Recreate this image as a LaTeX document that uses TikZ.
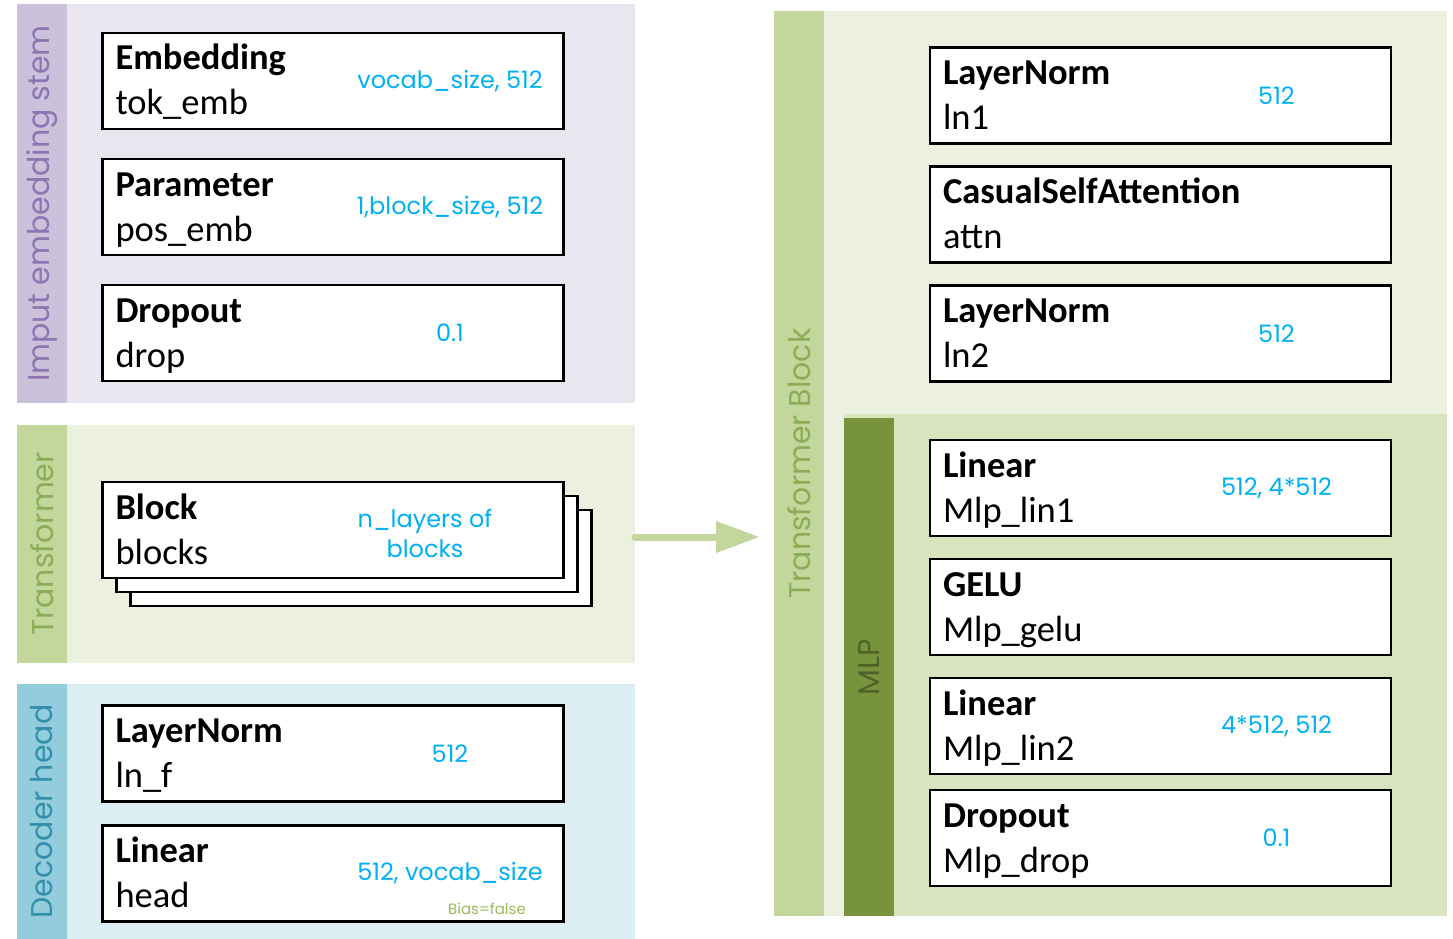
\documentclass[tikz,border=0pt]{standalone}
\usepackage{fontspec}
\setmainfont{Carlito}
\newfontfamily\gothic{Poppins}
\usetikzlibrary{arrows.meta, positioning}

\definecolor{stembg}{HTML}{EAE6EF}
\definecolor{stembar}{HTML}{CCC1DA}
\definecolor{stemtxt}{HTML}{8C75B2}
\definecolor{tfbg}{HTML}{EBF1DE}
\definecolor{tfbar}{HTML}{C3D69B}
\definecolor{tftxt}{HTML}{8AAE58}
\definecolor{headbg}{HTML}{DBEEF4}
\definecolor{headbar}{HTML}{93CDDD}
\definecolor{headtxt}{HTML}{3390AD}
\definecolor{mlpbg}{HTML}{D7E4BD}
\definecolor{mlpbar}{HTML}{77933C}
\definecolor{mlptxt}{HTML}{4F6228}
\definecolor{dimblue}{HTML}{00B0F0}
\definecolor{biasgreen}{HTML}{9BBB59}

\tikzset{
    panel/.style={rectangle, inner sep=0pt, outer sep=0pt},
    sidebar/.style={rectangle, inner sep=0pt, outer sep=0pt, minimum width=50pt, anchor=north west},
    sidetitle/.style={rotate=90, inner sep=0pt, font=\gothic\fontsize{30}{36}\selectfont},
    layer/.style={rectangle, draw, line width=2.5pt, fill=white, outer sep=0pt,
        inner xsep=13pt, inner ysep=0pt, text width=435pt, text height=37pt, text depth=59pt,
        align=left, font=\fontsize{36.5}{45}\selectfont},
    dims/.style={text=dimblue, align=center, inner sep=0pt, font=\gothic\fontsize{24}{30}\selectfont},
    bias/.style={text=biasgreen, inner sep=0pt, font=\gothic\fontsize{15}{18}\selectfont},
    flow/.style={line width=7pt, line cap=round, draw=tfbar, -{Triangle[length=44pt, width=30pt]}}
}

\begin{document}
\begin{tikzpicture}[x=1pt, y=-1pt]
    \useasboundingbox (0,0) rectangle (1453,939);

    % left column: the three stages
    \node (stempanel) [panel, fill=stembg, minimum width=618pt, minimum height=399pt] at (326,203.5) {};
    \node (tfpanel) [panel, fill=tfbg, minimum width=618pt, minimum height=238pt, below=22pt of stempanel] {};
    \node (headpanel) [panel, fill=headbg, minimum width=618pt, minimum height=255pt, below=21pt of tfpanel] {};
    \node (stembar) [sidebar, fill=stembar, minimum height=399pt] at (stempanel.north west) {};
    \node (tfbar) [sidebar, fill=tfbar, minimum height=238pt] at (tfpanel.north west) {};
    \node (headbar) [sidebar, fill=headbar, minimum height=255pt] at (headpanel.north west) {};
    \node (stemtitle) [sidetitle, text=stemtxt] at (stembar.center) {Imput embedding stem};
    \node (tftitle) [sidetitle, text=tftxt] at (tfbar.center) {Transformer};
    \node (headtitle) [sidetitle, text=headtxt] at (headbar.center) {Decoder head};

    % right column: one transformer block
    \node (blkpanel) [panel, fill=tfbg, minimum width=673pt, minimum height=905pt] at (1110.5,463.5) {};
    \node (mlppanel) [panel, fill=mlpbg, minimum width=603pt, minimum height=502pt, anchor=south east] at (blkpanel.south east) {};
    \node (blkbar) [sidebar, fill=tfbar, minimum height=905pt] at (blkpanel.north west) {};
    \node (mlpbar) [sidebar, fill=mlpbar, minimum height=498pt, anchor=south west] at (mlppanel.south west) {};
    \node (blktitle) [sidetitle, text=tftxt] at (blkbar.center) {Transformer Block};
    \node (mlptitle) [sidetitle, text=mlptxt] at (mlpbar.center) {MLP};

    % embedding stem
    \node (tokemb) [layer] at (333,81) {\textbf{Embedding}\\tok\_emb};
    \node (posemb) [layer, below=30pt of tokemb] {\textbf{Parameter}\\pos\_emb};
    \node (drop) [layer, below=30pt of posemb] {\textbf{Dropout}\\drop};
    \node (tokembdim) [dims] at ([xshift=117pt]tokemb.center) {vocab\_size, 512};
    \node (posembdim) [dims] at ([xshift=117pt]posemb.center) {1,block\_size, 512};
    \node (dropdim) [dims] at ([xshift=117pt]drop.center) {0.1};

    % stacked blocks
    \node (blockc) [layer] at (361,558) {};
    \node (blockb) [layer] at ([shift={(-14pt,14pt)}]blockc.center) {};
    \node (blocka) [layer] at ([shift={(-14pt,14pt)}]blockb.center) {\textbf{Block}\\blocks};
    \node (blockdim) [dims] at ([xshift=92pt,yshift=-3pt]blocka.center) {n\_layers of\\blocks};

    % decoder head
    \node (lnf) [layer] at (333,753.5) {\textbf{LayerNorm}\\ln\_f};
    \node (head) [layer, below=24pt of lnf] {\textbf{Linear}\\head};
    \node (lnfdim) [dims] at ([xshift=117pt]lnf.center) {512};
    \node (headdim) [dims] at ([xshift=117pt]head.center) {512, vocab\_size};
    \node (headbias) [bias] at ([xshift=154pt,yshift=-35pt]head.center) {Bias=false};

    % block internals
    \node (ln1) [layer] at (1160.5,95.5) {\textbf{LayerNorm}\\ln1};
    \node (attn) [layer, below=23pt of ln1] {\textbf{CasualSelfAttention}\\attn};
    \node (ln2) [layer, below=23pt of attn] {\textbf{LayerNorm}\\ln2};
    \node (ln1dim) [dims] at ([xshift=116pt]ln1.center) {512};
    \node (ln2dim) [dims] at ([xshift=116pt]ln2.center) {512};

    \node (mlplin1) [layer] at (1160.5,488) {\textbf{Linear}\\Mlp\_lin1};
    \node (mlpgelu) [layer, below=23pt of mlplin1] {\textbf{GELU}\\Mlp\_gelu};
    \node (mlplin2) [layer, below=23pt of mlpgelu] {\textbf{Linear}\\Mlp\_lin2};
    \node (mlpdrop) [layer, below=16pt of mlplin2] {\textbf{Dropout}\\Mlp\_drop};
    \node (mlplin1dim) [dims] at ([xshift=116pt]mlplin1.center) {512, 4*512};
    \node (mlplin2dim) [dims] at ([xshift=116pt]mlplin2.center) {4*512, 512};
    \node (mlpdropdim) [dims] at ([xshift=116pt]mlpdrop.center) {0.1};

    % blocks expand into the block on the right
    \coordinate (flowstart) at ([yshift=7pt]tfpanel.east);
    \draw [flow, shorten >=14pt] (flowstart) -- (flowstart -| blkpanel.west);

\end{tikzpicture}
\end{document}
